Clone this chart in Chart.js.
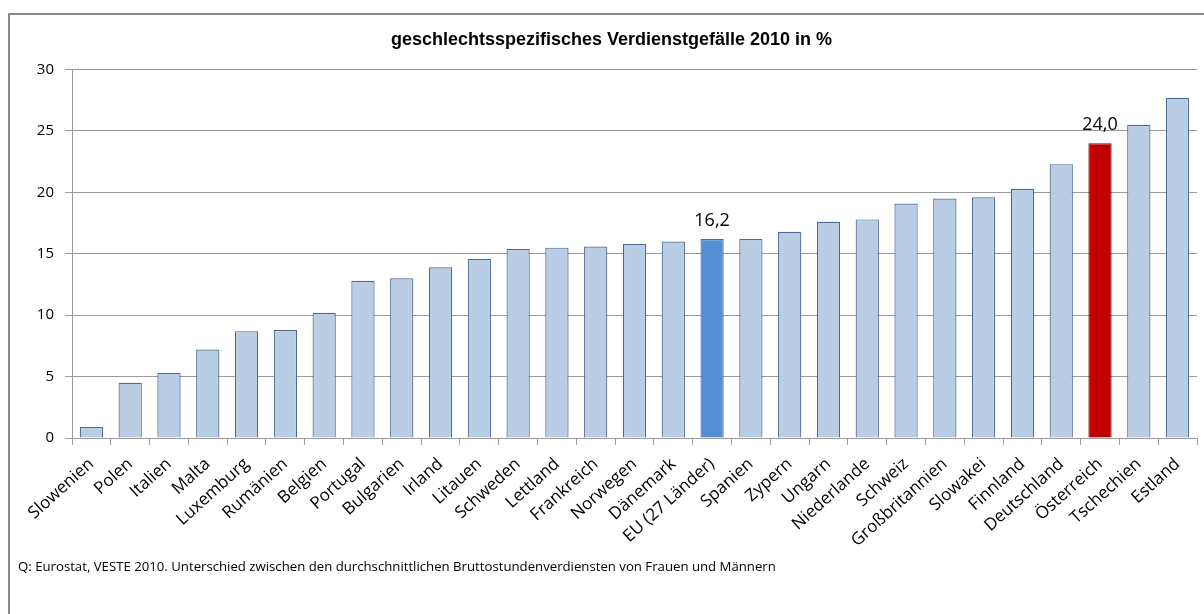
<!DOCTYPE html>
<html lang="de">
<head>
<meta charset="utf-8">
<script src="https://cdn.jsdelivr.net/npm/chart.js@4/dist/chart.umd.min.js"></script>
<style>
  html, body { margin: 0; padding: 0; background: #fff; }
  #wrap { position: relative; width: 1204px; height: 614px; overflow: hidden; }
  #frame {
    position: absolute; left: 8px; top: 13px; width: 1220px; height: 640px;
    border-top: 2px solid #8c8c8c; border-left: 2px solid #8c8c8c;
  }
  #chart { position: absolute; left: 0; top: 0; }
  #note {
    position: absolute; left: 18px; top: 557px;
    font: 13.2px "Open Sans", sans-serif; color: #000; white-space: nowrap;
  }
</style>
</head>
<body>
<div id="wrap">
  <div id="frame"></div>
  <canvas id="chart" width="1204" height="614"></canvas>
  <div id="note">Q: Eurostat, VESTE 2010. Unterschied zwischen den durchschnittlichen Bruttostundenverdiensten von Frauen und Männern</div>
</div>
<script>
const countries = [
  "Slowenien", "Polen", "Italien", "Malta", "Luxemburg", "Rumänien", "Belgien",
  "Portugal", "Bulgarien", "Irland", "Litauen", "Schweden", "Lettland", "Frankreich",
  "Norwegen", "Dänemark", "EU (27 Länder)", "Spanien", "Zypern", "Ungarn",
  "Niederlande", "Schweiz", "Großbritannien", "Slowakei", "Finnland", "Deutschland",
  "Österreich", "Tschechien", "Estland"
];
const gap = [
  0.9, 4.5, 5.3, 7.2, 8.7, 8.8, 10.2,
  12.8, 13.0, 13.9, 14.6, 15.4, 15.5, 15.6,
  15.8, 16.0, 16.2, 16.2, 16.8, 17.6,
  17.8, 19.1, 19.5, 19.6, 20.3, 22.3,
  24.0, 25.5, 27.7
];
const yTicks = [0, 5, 10, 15, 20, 25, 30];
// bars that get their own colour and a value label
const highlight = { "EU (27 Länder)": "#558ed5", "Österreich": "#c00000" };
const highlightBorder = { "EU (27 Länder)": "#3f6fae", "Österreich": "#8e0000" };

const fillColors = countries.map(c => highlight[c] || "#b9cde5");
const edgeColors = countries.map(c => highlightBorder[c] || "#4a6a94");

const valueLabels = {
  id: "valueLabels",
  afterDatasetsDraw(chart) {
    const { ctx } = chart;
    const meta = chart.getDatasetMeta(0);
    ctx.save();
    ctx.font = '18px "Open Sans", sans-serif';
    ctx.fillStyle = "#000";
    ctx.textAlign = "center";
    ctx.textBaseline = "bottom";
    meta.data.forEach((bar, i) => {
      if (!highlight[countries[i]]) return;
      const txt = gap[i].toFixed(1).replace(".", ",");
      ctx.fillText(txt, bar.x, bar.y - 9);
    });
    ctx.restore();
  }
};

new Chart(document.getElementById("chart"), {
  type: "bar",
  data: {
    labels: countries,
    datasets: [{
      data: gap,
      backgroundColor: fillColors,
      borderColor: edgeColors,
      borderWidth: 1.2,
      barPercentage: 0.6,
      categoryPercentage: 1.0,
    }],
  },
  plugins: [valueLabels],
  options: {
    responsive: false,
    animation: false,
    layout: { padding: { left: 26, right: 7, top: 0, bottom: 0 } },
    plugins: {
      legend: { display: false },
      tooltip: { enabled: false },
      title: {
        display: true,
        text: "geschlechtsspezifisches Verdienstgefälle 2010 in %",
        color: "#000",
        font: { family: '"Liberation Sans", Arial, sans-serif', size: 18, weight: "bold" },
        padding: { top: 29, bottom: 19 },
      },
    },
    scales: {
      x: {
        afterFit: (s) => { s.height = 176; },
        grid: { display: true, drawOnChartArea: false, offset: true, color: "#9a9a9a", tickLength: 7 },
        border: { color: "#9a9a9a", width: 1 },
        ticks: {
          autoSkip: false,
          minRotation: 42,
          maxRotation: 42,
          padding: 9,
          color: "#000",
          font: { family: '"Open Sans", sans-serif', size: 17 },
        },
      },
      y: {
        min: 0,
        max: 30,
        afterFit: (s) => { s.width = 46; },
        afterBuildTicks: (s) => { s.ticks = yTicks.map(v => ({ value: v })); },
        grid: { color: "#9a9a9a", tickLength: 7 },
        border: { color: "#9a9a9a", width: 1 },
        ticks: {
          padding: 11,
          color: "#000",
          font: { family: '"Open Sans", sans-serif', size: 15 },
        },
      },
    },
  },
});
</script>
</body>
</html>
